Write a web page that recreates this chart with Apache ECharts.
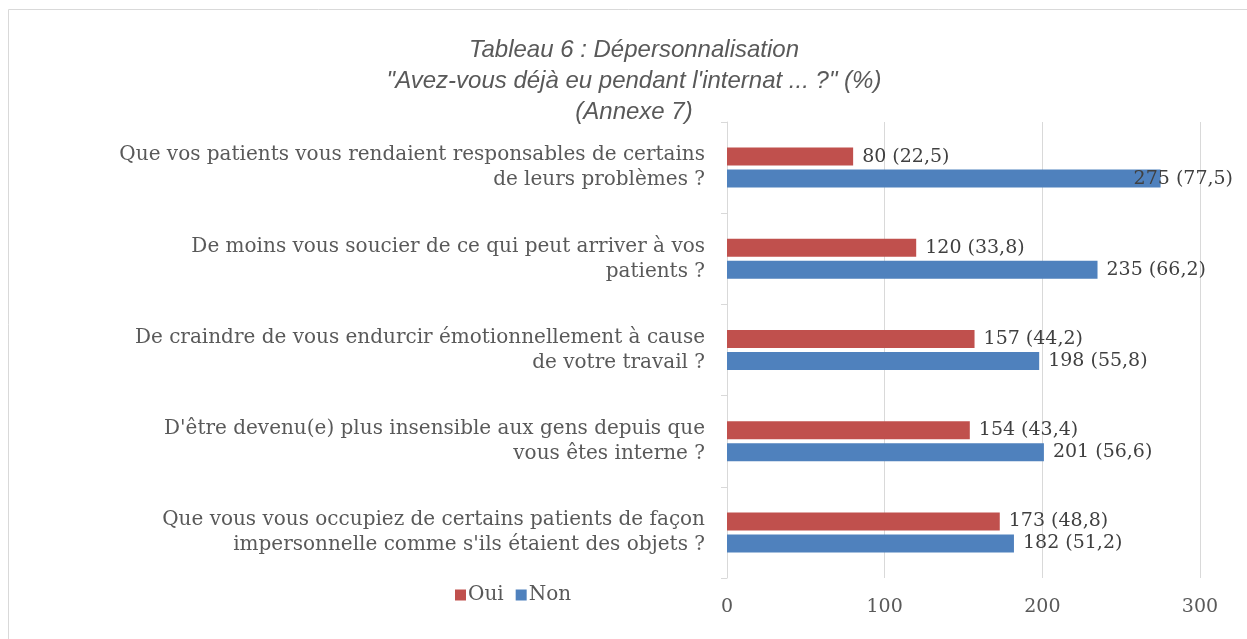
<!DOCTYPE html>
<html>
<head>
<meta charset="utf-8">
<script src="https://cdn.jsdelivr.net/npm/echarts@6/dist/echarts.min.js"></script>
<style>
  html, body { margin: 0; padding: 0; background: #fff; }
  #chart { width: 1247px; height: 639px; }
</style>
</head>
<body>
<div id="chart"></div>
<script>
const categories = [
  'Que vos patients vous rendaient responsables de certains\nde leurs problèmes ?',
  'De moins vous soucier de ce qui peut arriver à vos\npatients ?',
  'De craindre de vous endurcir émotionnellement à cause\nde votre travail ?',
  "D'être devenu(e) plus insensible aux gens depuis que\nvous êtes interne ?",
  "Que vous vous occupiez de certains patients de façon\nimpersonnelle comme s'ils étaient des objets ?"
];
const ouiValues = [80, 120, 157, 154, 173];
const ouiPercent = [22.5, 33.8, 44.2, 43.4, 48.8];
const nonValues = [275, 235, 198, 201, 182];
const nonPercent = [77.5, 66.2, 55.8, 56.6, 51.2];

const serif = '"DejaVu Serif", "Liberation Serif", serif';
const textColor = '#404040';

const chart = echarts.init(document.getElementById('chart'));

function labelText(pct) {
  return p => p.value + ' (' + String(pct[p.dataIndex]).replace('.', ',') + ')';
}

chart.setOption({
  animation: false,
  title: {
    text: 'Tableau 6 : Dépersonnalisation\n"Avez-vous déjà eu pendant l\'internat ... ?" (%)\n(Annexe 7)',
    left: 629,
    top: 30,
    textAlign: 'center',
    textStyle: {
      fontFamily: '"Liberation Sans", sans-serif',
      fontStyle: 'italic',
      fontWeight: 'normal',
      fontSize: 24,
      lineHeight: 31,
      color: '#595959'
    }
  },
  legend: {
    data: ['Oui', 'Non'],
    left: 450,
    top: 580,
    itemWidth: 11,
    itemHeight: 11,
    itemGap: 12,
    icon: 'rect',
    textStyle: { fontFamily: serif, fontSize: 20, color: '#595959', padding: [0, 0, 0, -3] }
  },
  grid: { left: 727, right: 47, top: 122, bottom: 61, containLabel: false },
  xAxis: {
    type: 'value',
    min: 0,
    max: 300,
    interval: 100,
    axisLine: { show: false },
    axisTick: { show: false },
    splitLine: { lineStyle: { color: '#D9D9D9', width: 1 } },
    axisLabel: { fontFamily: serif, fontSize: 19, color: '#595959', margin: 20 }
  },
  yAxis: {
    type: 'category',
    inverse: true,
    data: categories,
    axisLine: { lineStyle: { color: '#D9D9D9' } },
    axisTick: { show: true, length: 6, lineStyle: { color: '#D9D9D9' } },
    axisLabel: {
      fontFamily: serif,
      fontSize: 20,
      lineHeight: 25,
      color: '#595959',
      margin: 22,
      align: 'right'
    }
  },
  series: [
    {
      name: 'Oui',
      type: 'bar',
      data: ouiValues,
      barWidth: 18,
      barGap: '22%',
      itemStyle: { color: '#C0504D' },
      label: {
        show: true,
        position: 'right',
        distance: 9,
        fontFamily: serif,
        fontSize: 19,
        color: textColor,
        formatter: labelText(ouiPercent)
      }
    },
    {
      name: 'Non',
      type: 'bar',
      data: nonValues.map((v, i) => i === 0
        ? { value: v, label: { offset: [-36, 0] } }
        : v),
      barWidth: 18,
      itemStyle: { color: '#4F81BD' },
      label: {
        show: true,
        position: 'right',
        distance: 9,
        fontFamily: serif,
        fontSize: 19,
        color: textColor,
        formatter: labelText(nonPercent)
      }
    }
  ],
  graphic: [{
    type: 'rect',
    shape: { x: 8.5, y: 9.5, width: 1250, height: 640 },
    style: { fill: 'none', stroke: '#D9D9D9', lineWidth: 1 },
    silent: true
  }]
});
</script>
</body>
</html>
